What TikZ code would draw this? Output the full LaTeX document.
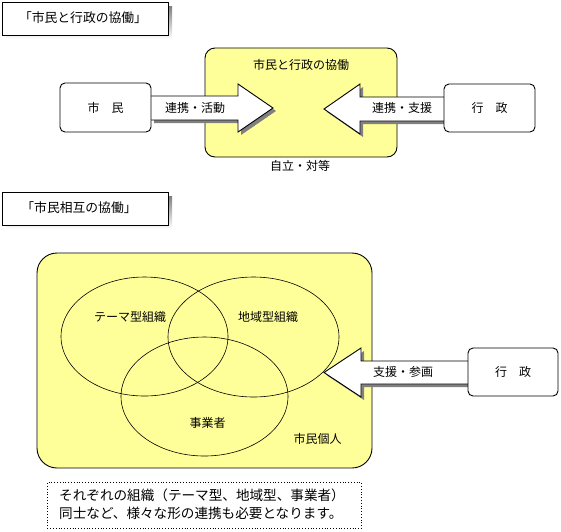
\documentclass[tikz,border=0pt]{standalone}
\usepackage{fontspec}
\usetikzlibrary{shapes.geometric}
\setmainfont{Noto Sans CJK JP}
\definecolor{pale}{HTML}{FFFF99}
\definecolor{shade}{HTML}{808080}
\begin{document}
\begin{tikzpicture}[x=1pt,y=-1pt,
  lbl/.style={inner sep=0pt,font=\fontsize{12}{14}\selectfont},
  ttl/.style={inner sep=0pt,font=\fontsize{12.8}{14}\selectfont},
  note/.style={inner sep=0pt,font=\fontsize{13.6}{18}\selectfont,align=left},
  box/.style={draw=black,line width=0.9pt,fill=white,rounded corners=5pt,inner sep=0pt,font=\fontsize{12}{14}\selectfont},
  zone/.style={draw=black,line width=0.9pt,fill=pale},
  blk/.style={draw=black,line width=0.9pt,fill=white,line join=miter},
  shadowed/.style={fill=shade,draw=none},
  titlebox/.style={draw=black,line width=0.9pt,fill=white,minimum width=166pt,minimum height=33pt,inner sep=0pt,anchor=north west},
  circ/.style={draw=black,line width=0.6pt,ellipse,inner sep=0pt}]
\useasboundingbox (0,0) rectangle (561,531);

% ---- title 1
\fill[shade] (6,6) rectangle (172,39);
\node[titlebox] (t1) at (2,2) {};
\node[ttl] (t1txt) at (83,18) {「市民と行政の協働」};

% ---- top collaboration zone
\draw[zone,rounded corners=10pt] (205,48) rectangle (397,157);
\node[lbl] (ztitle) at (301,65) {市民と行政の協働};
\node[lbl] (zsub) at (300,166) {自立・対等};

% arrow citizen -> zone
\coordinate (tipA) at (273,108);
\fill[shadowed] (154,99) -- (241,99) -- (241,87) -- (276,111) -- (241,135) -- (241,123) -- (154,123) -- cycle;
\draw[blk] (151,96) -- (238,96) -- (238,84) -- (tipA) -- (238,132) -- (238,120) -- (151,120);
\node[lbl] (lA) at (195,108) {連携・活動};

% arrow government -> zone
\coordinate (tipB) at (324,109);
\fill[shadowed] (327,112) -- (363,87) -- (363,100) -- (447,100) -- (447,124) -- (363,124) -- (363,137) -- cycle;
\draw[blk] (444,97) -- (360,97) -- (360,84) -- (tipB) -- (360,134) -- (360,121) -- (444,121);
\node[lbl] (lB) at (402,108) {連携・支援};

\node[box,minimum width=91pt,minimum height=49pt] (shimin) at (105.5,107.5) {市　民};
\node[box,minimum width=91pt,minimum height=48pt] (gyosei1) at (489.5,108) {行　政};

% ---- title 2
\fill[shade] (6,196) rectangle (172,229);
\node[titlebox] (t2) at (2,192) {};
\node[ttl] (t2txt) at (79,208) {「市民相互の協働」};

% ---- bottom zone
\draw[zone,rounded corners=20pt] (37,253) rectangle (372,468);
\node[circ,minimum width=167pt,minimum height=119pt] (e1) at (144.5,336.5) {};
\node[circ,minimum width=171pt,minimum height=120pt] (e2) at (253.5,337) {};
\node[circ,minimum width=167pt,minimum height=119pt] (e3) at (204.5,396.5) {};
\node[lbl] (l1) at (130,317) {テーマ型組織};
\node[lbl] (l2) at (268,317) {地域型組織};
\node[lbl] (l3) at (207.5,423) {事業者};
\node[lbl] (l4) at (317.5,439) {市民個人};

\coordinate (tipC) at (324,372.5);
\fill[shadowed] (327,375.5) -- (364,351) -- (364,364) -- (471,364) -- (471,387) -- (364,387) -- (364,400) -- cycle;
\draw[blk] (468,361) -- (361,361) -- (361,348) -- (tipC) -- (361,397) -- (361,384) -- (468,384);
\node[lbl] (lC) at (403,372) {支援・参画};
\node[box,minimum width=90pt,minimum height=48pt] (gyosei2) at (513,372) {行　政};

% ---- note
\node[draw=black,dotted,line width=0.8pt,minimum width=314pt,minimum height=46pt,anchor=north west,inner sep=0pt] (nb) at (47,482) {};
\node[note,anchor=west] (nt) at (59,504) {それぞれの組織（テーマ型、地域型、事業者）\\同士など、様々な形の連携も必要となります。};
\end{tikzpicture}
\end{document}
